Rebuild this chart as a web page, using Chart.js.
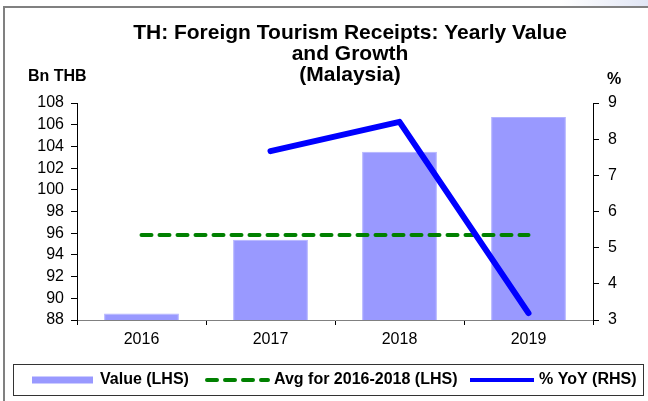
<!DOCTYPE html>
<html>
<head>
<meta charset="utf-8">
<script src="https://cdn.jsdelivr.net/npm/chart.js@4"></script>
<style>
  html, body { margin: 0; padding: 0; background: #ffffff; }
  #wrap { width: 648px; height: 401px; position: relative; }
</style>
</head>
<body>
<div id="wrap"><canvas id="tourismChart" width="648" height="401"></canvas></div>
<script>
var years = ["2016", "2017", "2018", "2019"];
var valueBn = [88.6, 95.4, 103.5, 106.7];
var avgBn = [95.83, 95.83, 95.83, 95.83];
var yoyPct = [null, 7.67, 8.48, 3.19];
var leftTicks = [88, 90, 92, 94, 96, 98, 100, 102, 104, 106, 108];
var rightTicks = [3, 4, 5, 6, 7, 8, 9];

var FONT = "'Liberation Sans', Arial, sans-serif";

// frame, titles and legend box drawn on the canvas
var decorPlugin = {
    id: "decor",
    beforeDraw: function(chart) {
        var ctx = chart.ctx;
        ctx.save();
        ctx.fillStyle = "#ffffff";
        ctx.fillRect(0, 0, chart.width, chart.height);
        var g = ctx.createLinearGradient(560, 0, 648, 0);
        g.addColorStop(0, "rgba(225, 230, 245, 0)");
        g.addColorStop(1, "rgba(225, 230, 245, 1)");
        ctx.fillStyle = g;
        ctx.fillRect(560, 0, 88, 6);
        ctx.strokeStyle = "#808080";
        ctx.lineWidth = 2;
        ctx.beginPath();
        ctx.moveTo(4, chart.height);
        ctx.lineTo(4, 7);
        ctx.lineTo(chart.width, 7);
        ctx.stroke();
        ctx.restore();
    },
    afterDraw: function(chart) {
        var ctx = chart.ctx;
        var ds = chart.data.datasets;
        ctx.save();
        ctx.fillStyle = "#000000";
        ctx.textBaseline = "middle";
        ctx.font = "bold 21px " + FONT;
        ctx.textAlign = "center";
        ctx.fillText("TH: Foreign Tourism Receipts: Yearly Value", 350, 33);
        ctx.fillText("and Growth", 350, 54);
        ctx.fillText("(Malaysia)", 350, 75);
        ctx.font = "bold 16px " + FONT;
        ctx.textAlign = "left";
        ctx.fillText("Bn THB", 28, 77);
        ctx.fillText("%", 607, 80);

        // legend
        ctx.strokeStyle = "#333333";
        ctx.lineWidth = 1;
        ctx.strokeRect(13.5, 364.5, 630, 31);
        var ly = 380;
        ctx.font = "bold 16px " + FONT;
        ctx.fillStyle = ds[0].backgroundColor;
        ctx.fillRect(32, ly - 3.5, 61, 7);
        ctx.fillStyle = "#000000";
        ctx.fillText(ds[0].label, 100, ly);

        ctx.strokeStyle = ds[1].borderColor;
        ctx.lineWidth = 4;
        ctx.lineCap = "round";
        ctx.setLineDash([10, 8]);
        ctx.beginPath();
        ctx.moveTo(207, ly);
        ctx.lineTo(268, ly);
        ctx.stroke();
        ctx.setLineDash([]);
        ctx.fillText(ds[1].label, 274, ly);

        ctx.strokeStyle = ds[2].borderColor;
        ctx.lineWidth = 4;
        ctx.lineCap = "butt";
        ctx.beginPath();
        ctx.moveTo(470, ly);
        ctx.lineTo(534, ly);
        ctx.stroke();
        ctx.fillText(ds[2].label, 539, ly);
        ctx.restore();
    }
};

var ctx = document.getElementById("tourismChart").getContext("2d");
new Chart(ctx, {
    type: "bar",
    data: {
        labels: years,
        datasets: [{
            type: "bar",
            label: "Value (LHS)",
            data: valueBn,
            backgroundColor: "#9999ff",
            borderColor: "#b3b3ff",
            borderWidth: 1,
            categoryPercentage: 1.0,
            barPercentage: 0.58,
            yAxisID: "y",
            order: 3
        }, {
            type: "line",
            label: "Avg for 2016-2018 (LHS)",
            data: avgBn,
            borderColor: "#008000",
            borderWidth: 4,
            borderDash: [10, 8],
            borderCapStyle: "round",
            pointRadius: 0,
            fill: false,
            yAxisID: "y",
            order: 2
        }, {
            type: "line",
            label: "% YoY (RHS)",
            data: yoyPct,
            borderColor: "#0000ff",
            borderWidth: 6,
            borderCapStyle: "round",
            borderJoinStyle: "round",
            pointRadius: 0,
            fill: false,
            spanGaps: false,
            yAxisID: "y2",
            order: 1
        }]
    },
    plugins: [decorPlugin],
    options: {
        responsive: false,
        animation: false,
        layout: { padding: { top: 103, right: 0, bottom: 0, left: 0 } },
        plugins: {
            legend: { display: false },
            tooltip: { enabled: false }
        },
        scales: {
            x: {
                grid: { display: true, drawOnChartArea: false, offset: true, color: "#000000", tickLength: 5 },
                border: { display: true, color: "#808080", width: 1 },
                ticks: { color: "#000000", font: { family: FONT, size: 16 }, padding: 5, maxRotation: 0, minRotation: 0 },
                afterFit: function(s) { s.height = 81; }
            },
            y: {
                position: "left",
                min: 88,
                max: 108,
                afterBuildTicks: function(s) { s.ticks = leftTicks.map(function(v) { return { value: v }; }); },
                grid: { display: true, drawOnChartArea: false, color: "#000000", tickLength: 6 },
                border: { display: true, color: "#000000", width: 1 },
                ticks: { color: "#000000", font: { family: FONT, size: 16 }, padding: 7, autoSkip: false },
                afterFit: function(s) { s.width = 77; }
            },
            y2: {
                position: "right",
                min: 3,
                max: 9,
                afterBuildTicks: function(s) { s.ticks = rightTicks.map(function(v) { return { value: v }; }); },
                grid: { display: true, drawOnChartArea: false, color: "#000000", tickLength: 6 },
                border: { display: true, color: "#000000", width: 1 },
                ticks: { color: "#000000", font: { family: FONT, size: 16 }, padding: 9, autoSkip: false },
                afterFit: function(s) { s.width = 55; }
            }
        }
    }
});
</script>
</body>
</html>
